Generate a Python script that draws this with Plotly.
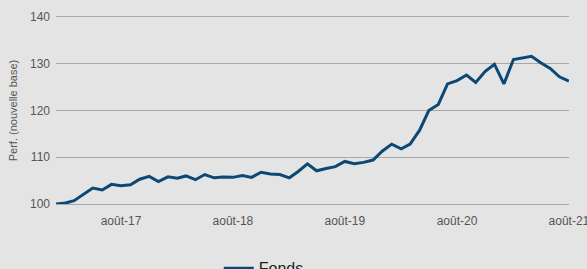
import plotly.graph_objects as go

months = [f"{y}-{m:02d}-01" for y in range(2017, 2022) for m in range(1, 13)][:56]
fonds = [100.0, 100.2, 100.7, 102.1, 103.4, 103.0, 104.2, 103.9, 104.1, 105.3, 105.9, 104.8,
         105.8, 105.5, 106.0, 105.2, 106.3, 105.6, 105.8, 105.7, 106.1, 105.7, 106.8, 106.4,
         106.3, 105.6, 106.9, 108.6, 107.1, 107.6, 108.0, 109.1, 108.6, 108.9, 109.4, 111.3,
         112.8, 111.8, 112.8, 115.8, 120.0, 121.3, 125.7, 126.4, 127.6, 126.0, 128.4, 129.9,
         125.7, 130.9, 131.3, 131.6, 130.2, 129.0, 127.2, 126.3]
tick_vals = ["2017-08-01", "2018-08-01", "2019-08-01", "2020-08-01", "2021-08-01"]
tick_text = ["août-17", "août-18", "août-19", "août-20", "août-21"]
y_ticks = [100, 110, 120, 130, 140]

fig = go.Figure()
fig.add_trace(go.Scatter(x=months, y=fonds, mode="lines", name="Fonds",
                         line=dict(color="#0b4876", width=3)))

bg = "#e4e4e4"
grid = "#a8a8a8"
fig.update_layout(
    width=587, height=269,
    margin=dict(l=56, r=18, t=17, b=65, autoexpand=False),
    paper_bgcolor=bg, plot_bgcolor=bg,
    font=dict(family="Liberation Sans, Arial, sans-serif", color="#555555", size=12),
    showlegend=True,
    legend=dict(orientation="h", x=0.405, xanchor="center", y=0.066, yref="container",
                yanchor="top", font=dict(size=16, color="#222222"), itemwidth=30,
                bgcolor="rgba(0,0,0,0)"),
    xaxis=dict(type="date", range=["2017-01-01", "2021-08-01 06:00"], tickvals=tick_vals,
               ticktext=tick_text, showgrid=False, zeroline=False,
               showline=True, mirror=True, linecolor=grid, linewidth=1.2, layer="below traces",
               ticks="outside", ticklen=5, tickcolor="rgba(0,0,0,0)", automargin=False,
               ticklabeloverflow="allow",
               tickfont=dict(size=12, color="#555555")),
    yaxis=dict(range=[100, 140], tickvals=y_ticks, showgrid=True, gridcolor=grid,
               gridwidth=1.2, zeroline=False, showline=False, ticks="", automargin=False,
               ticklabelstandoff=5,
               title=dict(text="Perf. (nouvelle base)", font=dict(size=11, color="#555555"), standoff=10),
               tickfont=dict(size=12, color="#555555")),
)
fig.write_html("out.html", config={"displayModeBar": False},
               post_script="document.body.style.margin='0';")
